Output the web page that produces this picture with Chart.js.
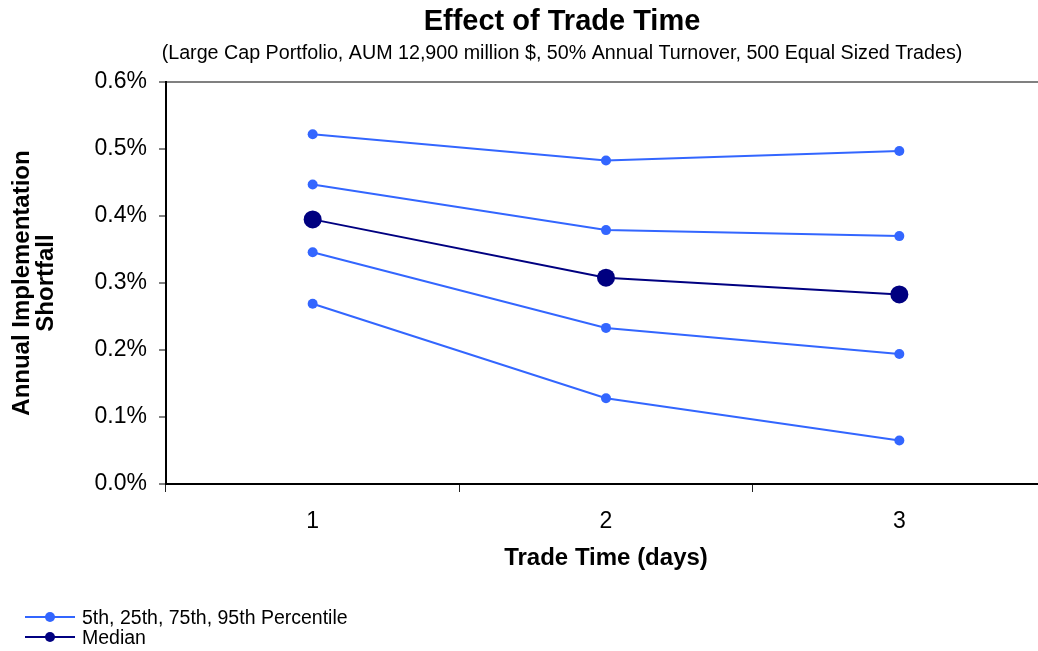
<!DOCTYPE html>
<html>
<head>
<meta charset="utf-8">
<script src="https://cdn.jsdelivr.net/npm/chart.js@4"></script>
<style>
  body { margin: 0; overflow: hidden; background: #fff; font-family: "Liberation Sans", Arial, sans-serif; }
  #wrap { position: relative; width: 1124px; height: 651px; }
  #legend { position: absolute; left: 25px; top: 607px; font-size: 19.5px; color: #000; }
  .item { display: flex; align-items: center; height: 20px; }
  .sym { position: relative; width: 50px; height: 20px; margin-right: 7px; }
  .sym .ln { position: absolute; left: 0; right: 0; top: 9px; height: 2px; }
  .sym .dt { position: absolute; left: 20px; top: 5px; width: 10px; height: 10px; border-radius: 50%; }
</style>
</head>
<body>
<div id="wrap">
  <canvas id="chart1" width="1124" height="651"></canvas>
  <div id="legend"></div>
</div>
<script>
const days = ['1', '2', '3'];
// annual implementation shortfall, in percent
const p95 = [0.522, 0.483, 0.497];
const p75 = [0.447, 0.379, 0.370];
const median = [0.395, 0.308, 0.283];
const p25 = [0.346, 0.233, 0.194];
const p5 = [0.269, 0.128, 0.065];
const yTicks = [0, 0.1, 0.2, 0.3, 0.4, 0.5, 0.6];

const blue = '#3366FF';
const navy = '#000080';

const pct = (data) => ({
    data: data,
    borderColor: blue,
    backgroundColor: blue,
    borderWidth: 2,
    pointRadius: 5,
    pointHoverRadius: 5,
    pointBorderWidth: 0
});

const config = {
    type: 'line',
    data: {
        labels: days,
        datasets: [
            pct(p95),
            pct(p75),
            {
                data: median,
                borderColor: navy,
                backgroundColor: navy,
                borderWidth: 2,
                pointRadius: 9,
                pointHoverRadius: 9,
                pointBorderWidth: 0
            },
            pct(p25),
            pct(p5)
        ]
    },
    options: {
        responsive: false,
        animation: false,
        layout: {
            // equal side padding keeps the title centred where the original has it
            padding: { left: 78, right: 78 }
        },
        plugins: {
            legend: { display: false },
            tooltip: { enabled: false },
            title: {
                display: true,
                text: 'Effect of Trade Time',
                color: '#000',
                font: { family: 'Liberation Sans', size: 29, weight: 'bold' },
                padding: { top: 4.6, bottom: 2.4 }
            },
            subtitle: {
                display: true,
                text: '(Large Cap Portfolio, AUM 12,900 million $, 50% Annual Turnover, 500 Equal Sized Trades)',
                color: '#000',
                font: { family: 'Liberation Sans', size: 19.7 },
                padding: { top: 0, bottom: 16.6 }
            }
        },
        scales: {
            x: {
                type: 'category',
                offset: true,
                afterFit: (scale) => { scale.height = 167; },
                border: { color: '#000', width: 2 },
                grid: {
                    offset: true,
                    drawOnChartArea: false,
                    tickLength: 8,
                    tickColor: '#222'
                },
                ticks: {
                    color: '#000',
                    padding: 16,
                    font: { family: 'Liberation Sans', size: 23 }
                },
                title: {
                    display: true,
                    text: 'Trade Time (days)',
                    color: '#000',
                    font: { family: 'Liberation Sans', size: 24, weight: 'bold' },
                    padding: { top: 0, bottom: 78.6 }
                }
            },
            y: {
                type: 'linear',
                min: 0,
                max: 0.6,
                afterFit: (scale) => { scale.width = 88; },
                afterBuildTicks: (scale) => {
                    scale.ticks = yTicks.map(v => ({ value: v }));
                },
                border: { color: '#000', width: 2 },
                grid: {
                    color: (c) => (c.tick && c.tick.value === 0.6 ? '#808080' : 'rgba(0,0,0,0)'),
                    lineWidth: 2,
                    tickLength: 7,
                    tickColor: '#808080'
                },
                ticks: {
                    color: '#000',
                    padding: 12,
                    font: { family: 'Liberation Sans', size: 23 },
                    callback: (v) => v.toFixed(1) + '%'
                },
                title: {
                    display: true,
                    text: ['Annual Implementation', 'Shortfall'],
                    color: '#000',
                    font: { family: 'Liberation Sans', size: 24, weight: 'bold', lineHeight: 1.0 },
                    // pulls the title back out into the left padding
                    padding: { top: -68, bottom: 0 }
                }
            }
        }
    }
};

const ctx1 = document.getElementById('chart1').getContext('2d');
const chart1 = new Chart(ctx1, config);

// legend: one entry for the four percentile lines, one for the median
const legendItems = [
    { text: '5th, 25th, 75th, 95th Percentile', color: blue },
    { text: 'Median', color: navy }
];
const legendBox = document.getElementById('legend');
legendItems.forEach(it => {
    const row = document.createElement('div');
    row.className = 'item';
    row.innerHTML = '<span class="sym"><span class="ln" style="background:' + it.color + '"></span>' +
        '<span class="dt" style="background:' + it.color + '"></span></span><span>' + it.text + '</span>';
    legendBox.appendChild(row);
});
</script>
</body>
</html>
